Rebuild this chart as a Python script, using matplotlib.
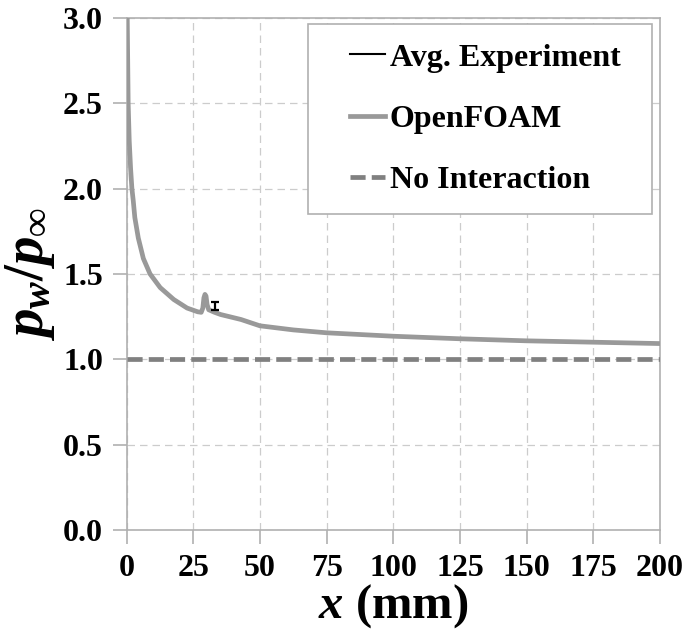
import matplotlib
matplotlib.use("Agg")
import matplotlib.pyplot as plt
from matplotlib.legend_handler import HandlerLine2D

plt.rcParams["font.family"] = "Liberation Serif"
plt.rcParams["font.weight"] = "bold"
plt.rcParams["mathtext.fontset"] = "custom"
plt.rcParams["mathtext.rm"] = "Liberation Serif:bold"
plt.rcParams["mathtext.it"] = "Liberation Serif:italic:bold"
plt.rcParams["mathtext.bf"] = "Liberation Serif:bold"

# OpenFOAM wall pressure ratio
x_sim = [0.05, 0.25, 0.6, 1.0, 1.5, 2.0, 2.5, 3.1, 4.4, 6.3, 8.8, 12.6, 17.7,
         22.7, 26.7, 28.0, 28.6, 29.0, 29.4, 29.8, 30.2, 30.8, 33.0, 35.3, 42.9,
         50.0, 62.5, 75.0, 100.0, 125.0, 150.0, 175.0, 200.0]
p_sim = [3.40, 3.00, 2.50, 2.28, 2.12, 2.00, 1.93, 1.83, 1.71, 1.59, 1.50, 1.42,
         1.35, 1.30, 1.278, 1.275, 1.30, 1.36, 1.38, 1.37, 1.32, 1.29, 1.275,
         1.262, 1.233, 1.196, 1.172, 1.155, 1.135, 1.12, 1.108, 1.10, 1.092]

# averaged experiment with error bar
x_exp = [33.2]
p_exp = [1.311]
p_exp_err = [0.023]

# inviscid reference
x_ref = [0, 200]
p_ref = [1.0, 1.0]

fig, ax = plt.subplots(figsize=(6.86, 6.37), dpi=100)
fig.subplots_adjust(left=0.1845, right=0.962, bottom=0.168, top=0.972)

ax.plot(x_sim, p_sim, color="#999999", lw=3.4, label="OpenFOAM", zorder=3)
ax.plot(x_ref, p_ref, color="#808080", lw=3.4, ls=(0, (3.2, 1.3)), label="No Interaction", zorder=3)
ax.errorbar(x_exp, p_exp, yerr=p_exp_err, fmt="none", ecolor="black", elinewidth=1.6,
            capsize=3, capthick=1.6, zorder=4)
ax.plot([], [], color="black", lw=1.5, label="Avg. Experiment")

ax.set_xlim(0, 200)
ax.set_ylim(0, 3.0)
ax.set_xticks(range(0, 201, 25))
ax.set_yticks([0.0, 0.5, 1.0, 1.5, 2.0, 2.5, 3.0])
ax.set_yticklabels([f"{v:.1f}" for v in ax.get_yticks()])
ax.grid(True, color="#cccccc", ls=(0, (6, 4)), lw=0.9)
for s in ax.spines.values():
    s.set_color("#b0b0b0")
    s.set_linewidth(1.2)
ax.tick_params(axis="both", direction="out", length=10, color="#b0b0b0", width=1.2,
               labelsize=23, pad=7)

ax.set_xlabel(r"$x$ (mm)", fontsize=35, fontweight="bold", labelpad=0)
ax.set_ylabel(r"$p_w/p_\infty$", fontsize=41, labelpad=4)

handles, labels = ax.get_legend_handles_labels()
order = [labels.index("Avg. Experiment"), labels.index("OpenFOAM"), labels.index("No Interaction")]
leg = ax.legend([handles[i] for i in order], [labels[i] for i in order],
                loc="upper left", bbox_to_anchor=(0.340, 0.988, 0.645, 0.0), mode="expand",
                borderaxespad=0, fontsize=23, handlelength=1.8, handletextpad=0.16,
                labelspacing=1.0, borderpad=0.6, fancybox=False, framealpha=1,
                edgecolor="#b0b0b0",
                handler_map={h: HandlerLine2D(xpad=0.72) for h in handles})
leg.get_frame().set_linewidth(1.2)

fig.savefig("out.png", dpi=100)
